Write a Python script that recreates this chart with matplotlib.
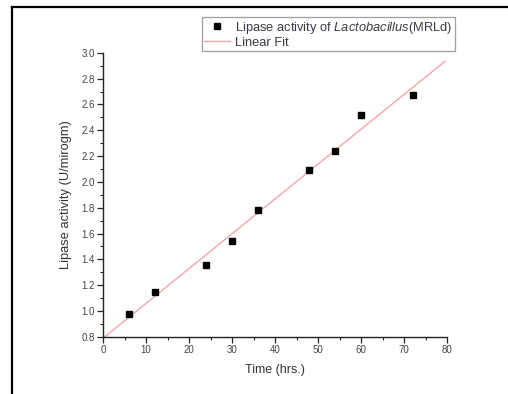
import numpy as np
import matplotlib
matplotlib.use('Agg')
from matplotlib import pyplot as plt
from matplotlib.lines import Line2D
from matplotlib.ticker import MultipleLocator

plt.rcParams['font.family'] = ['Liberation Sans', 'DejaVu Sans']
plt.rcParams['mathtext.fontset'] = 'custom'
plt.rcParams['mathtext.it'] = 'Liberation Sans:italic'
plt.rcParams['mathtext.rm'] = 'Liberation Sans'

# datos
tiempo = [6, 12, 24, 30, 36, 48, 54, 60, 72]
actividad = [0.98, 1.15, 1.36, 1.54, 1.78, 2.09, 2.24, 2.52, 2.67]

# ajuste lineal
m, b = np.polyfit(tiempo, actividad, 1)
x_fit = np.array([0.0, 79.5])
y_fit = m * x_fit + b

fig = plt.figure(figsize=(5.08, 3.94), dpi=100)
ax = fig.add_axes([0.203, 0.145, 0.677, 0.721])

l1, = ax.plot(tiempo, actividad, 's', color='black', markersize=4,
              label=r'Lipase activity of $\it{Lactobacillus}$(MRLd)', zorder=3)
l2, = ax.plot(x_fit, y_fit, '-', color='#f2a6ab', linewidth=1.0, label='Linear Fit')

ax.set_xlim(0, 80)
ax.set_ylim(0.8, 3.0)
ax.xaxis.set_major_locator(MultipleLocator(10))
ax.xaxis.set_minor_locator(MultipleLocator(5))
ax.yaxis.set_major_locator(MultipleLocator(0.2))
ax.yaxis.set_minor_locator(MultipleLocator(0.1))
ax.yaxis.set_major_formatter(matplotlib.ticker.FormatStrFormatter('%.1f'))

ax.spines['top'].set_visible(False)
ax.spines['right'].set_visible(False)
for s in ['left', 'bottom']:
    ax.spines[s].set_color('#222222')
    ax.spines[s].set_linewidth(1.0)

ax.tick_params(which='major', direction='out', length=4, width=0.9,
               labelsize=7, colors='#222222', labelcolor='#444444', pad=2)
ax.tick_params(which='minor', direction='out', length=2.5, width=0.8, colors='#222222')

ax.set_xlabel('Time (hrs.)', fontsize=9, color='#333333', labelpad=6)
ax.set_ylabel('Lipase activity (U/mirogm)', fontsize=9.3, color='#333333', labelpad=7)

leg = fig.legend(handles=[l1, l2], loc='upper right', bbox_to_anchor=(0.896, 0.957),
                 bbox_transform=fig.transFigure, fontsize=9.3, frameon=True,
                 fancybox=False, edgecolor='#888888', handlelength=2.0,
                 borderpad=0.2, labelspacing=0.1, handletextpad=0.4,
                 borderaxespad=0)
leg.get_frame().set_linewidth(0.9)
for t in leg.get_texts():
    t.set_color('#3a3a4a')

# marco de la imagen
fig.add_artist(Line2D([12 / 508, 12 / 508], [0, 1 - 7 / 394], color='black',
                      linewidth=1.6, transform=fig.transFigure))
fig.add_artist(Line2D([12 / 508, 1], [1 - 7 / 394, 1 - 7 / 394], color='black',
                      linewidth=1.6, transform=fig.transFigure))

plt.savefig('out.png', dpi=100)
